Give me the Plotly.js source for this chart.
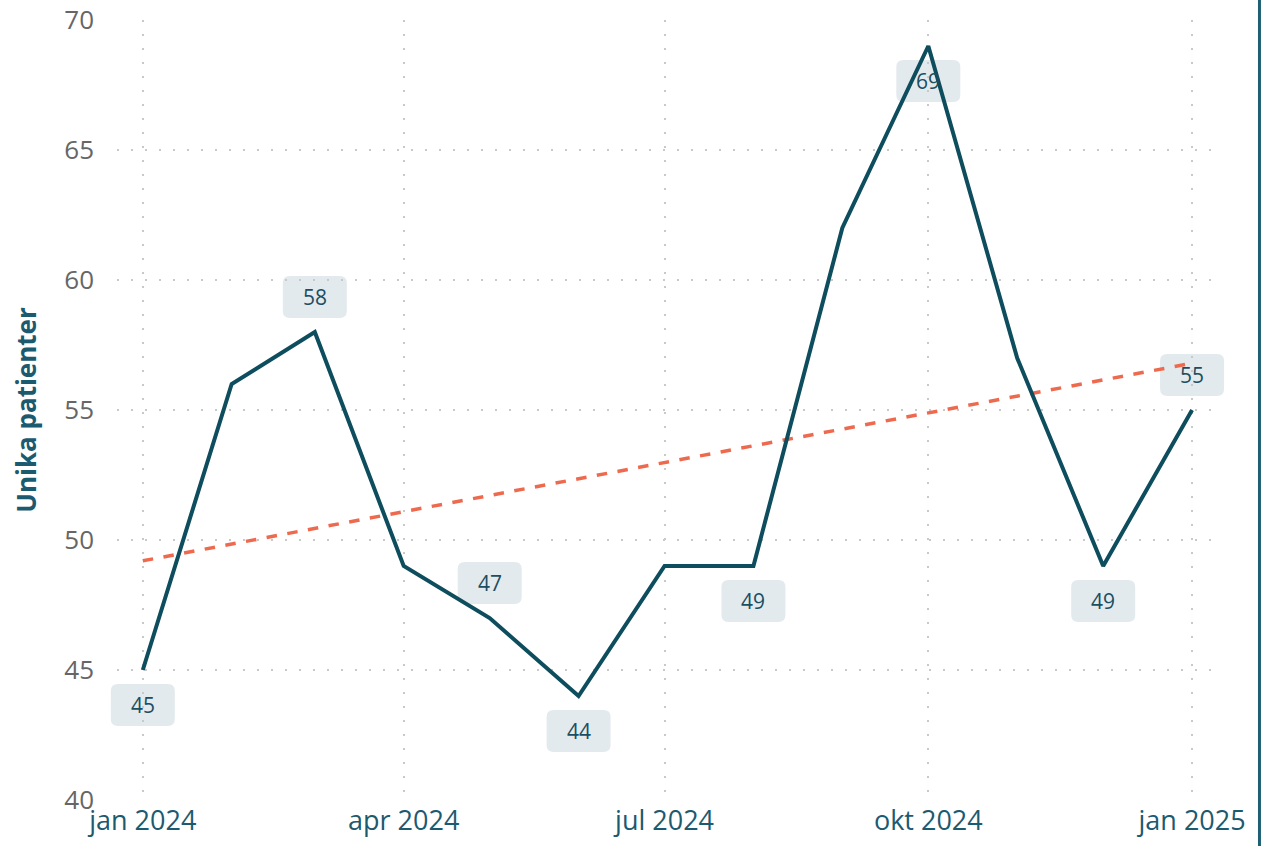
<!DOCTYPE html>
<html>
<head>
<meta charset="utf-8">
<script src="https://cdn.plot.ly/plotly-3.0.1.min.js"></script>
<style>
html,body{margin:0;padding:0;background:#fff;}
#chart{width:1268px;height:846px;}
</style>
</head>
<body>
<div id="chart"></div>
<script>
// Data
const months = ['2024-01-01','2024-02-01','2024-03-01','2024-04-01','2024-05-01','2024-06-01','2024-07-01','2024-08-01','2024-09-01','2024-10-01','2024-11-01','2024-12-01','2025-01-01'];
const patients = [45, 56, 58, 49, 47, 44, 49, 49, 62, 69, 57, 49, 55];
const trendDates = ['2024-01-01', '2025-01-01'];
const trendValues = [49.2, 56.8];
const tickDates = ['2024-01-01','2024-04-01','2024-07-01','2024-10-01','2025-01-01'];
const tickLabels = ['jan 2024','apr 2024','jul 2024','okt 2024','jan 2025'];
const labelIndex = [0, 2, 4, 5, 7, 9, 11, 12];
const labelAbove = [false, true, true, false, false, false, false, true];

const lineColor = '#0d4d5d';
const boxColor = '#e3eaed';
const textColor = '#1c4e61';

const annotations = [];
labelIndex.forEach((idx, k) => {
  const dy = labelAbove[k] ? 35 : -35;
  annotations.push({
    x: months[idx], y: patients[idx], xref: 'x', yref: 'y',
    text: String(patients[idx]), showarrow: false,
    yshift: dy, font: {family: 'Open Sans, sans-serif', size: 21, color: textColor}
  });
});
const borderShape = {type: 'line', xref: 'paper', yref: 'paper', x0: 1.0405, x1: 1.0405, y0: -0.07, y1: 1.05,
  line: {color: '#1f5f74', width: 3}, layer: 'above'};

const traces = [
  {x: trendDates, y: trendValues, type: 'scatter', mode: 'lines',
   line: {color: '#ee6a4f', width: 3.5, dash: 'dash'}, hoverinfo: 'skip'},
  {x: months, y: patients, type: 'scatter', mode: 'lines',
   line: {color: lineColor, width: 4}}
];

const gridStyle = {showgrid: true, gridcolor: '#c9c9c9', griddash: '2px,12px', gridwidth: 2};

const layout = {
  width: 1268, height: 846,
  margin: {l: 117, r: 53, t: 20, b: 46},
  paper_bgcolor: '#ffffff', plot_bgcolor: '#ffffff',
  showlegend: false,
  font: {family: 'Open Sans, sans-serif'},
  xaxis: Object.assign({
    type: 'date', range: ['2023-12-23', '2025-01-09'],
    tickvals: tickDates, ticktext: tickLabels,
    tickfont: {size: 27, color: '#1c5a70'},
    zeroline: false, showline: false, ticks: '', ticklabelstandoff: 2
  }, gridStyle),
  yaxis: Object.assign({
    range: [40, 70], dtick: 5, tick0: 40,
    tickfont: {size: 26, color: '#666666'},
    zeroline: false, showline: false, ticks: '', ticklabelstandoff: 22,
    title: {text: '<b>Unika patienter</b>', font: {size: 26, color: '#1c5a70'}, standoff: 20}
  }, gridStyle),
  shapes: [borderShape],
  annotations: annotations
};

Plotly.newPlot('chart', traces, layout, {displayModeBar: false, staticPlot: true}).then(gd => {
  const xa = gd._fullLayout.xaxis, ya = gd._fullLayout.yaxis;
  const shapes = [];
  labelIndex.forEach((idx, k) => {
    const dy = labelAbove[k] ? 35 : -35;
    const w = 32, h = 21, r = 7;
    const y0 = dy - h, y1 = dy + h;
    const path = `M ${-w + r} ${y0} L ${w - r} ${y0} Q ${w} ${y0} ${w} ${y0 + r} L ${w} ${y1 - r} Q ${w} ${y1} ${w - r} ${y1} L ${-w + r} ${y1} Q ${-w} ${y1} ${-w} ${y1 - r} L ${-w} ${y0 + r} Q ${-w} ${y0} ${-w + r} ${y0} Z`;
    const fx = xa.l2p(xa.d2l(months[idx])) / xa._length;
    const fy = 1 - ya.l2p(ya.d2l(patients[idx])) / ya._length;
    shapes.push({
      type: 'path', xref: 'paper', yref: 'paper',
      xsizemode: 'pixel', ysizemode: 'pixel',
      xanchor: fx, yanchor: fy,
      path: path, fillcolor: boxColor, line: {width: 0}, layer: 'below'
    });
  });
  shapes.push(borderShape);
  return Plotly.relayout(gd, {shapes: shapes});
});
</script>
</body>
</html>
